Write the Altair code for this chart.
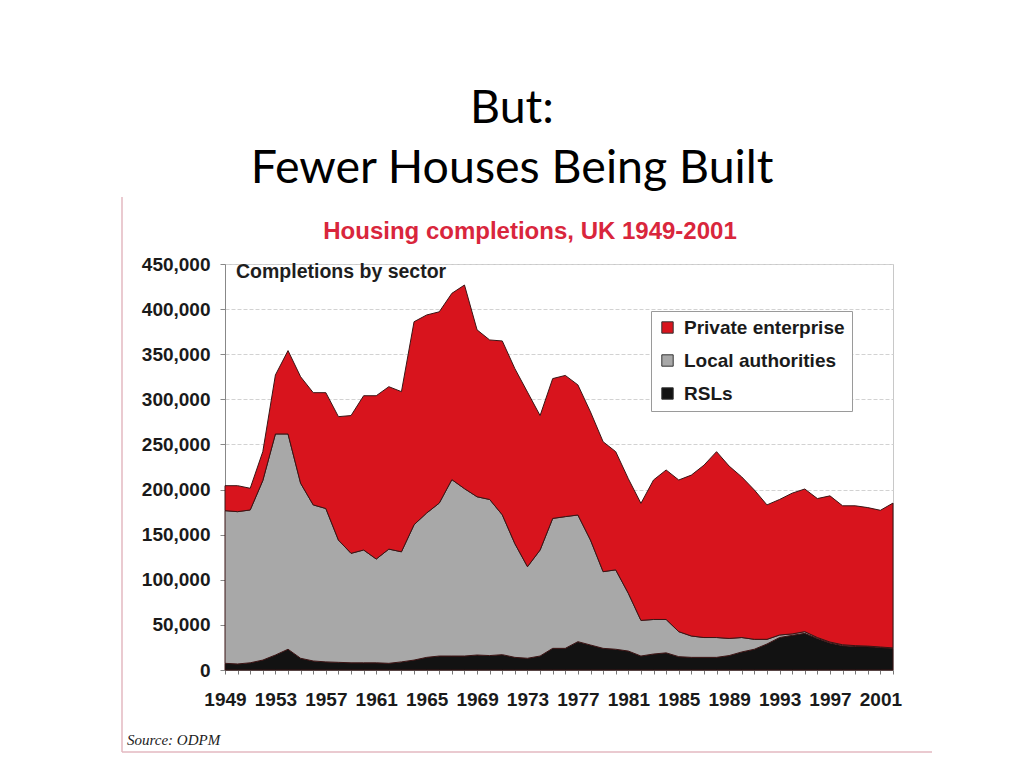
import altair as alt
import pandas as pd

# ---- data ----
years = list(range(1949, 2003))
rsl = [7400, 6700, 8000, 11000, 16600, 23000, 13000, 10000, 9000, 8500,
       8000, 8000, 8000, 7400, 9000, 11000, 14000, 15500, 15500, 15500,
       16600, 16000, 17000, 14000, 13000, 15500, 24000, 24000, 31400, 27700,
       24000, 23000, 21000, 15500, 17700, 19000, 14800, 14000, 14000, 14000,
       16000, 20000, 23000, 28800, 36000, 38400, 40600, 35000, 30000, 27000,
       26000, 26000, 25000, 24000]
local = [169200, 168800, 169400, 199000, 245000, 238600, 194000, 173000, 170000, 135500,
         121300, 125000, 115000, 126600, 122000, 150000, 160000, 169500, 195500, 185500,
         175400, 173000, 155000, 126000, 101500, 117500, 144000, 146000, 140400, 116300,
         85000, 88000, 64000, 39500, 38300, 37000, 27700, 23700, 22000, 22000,
         19000, 16000, 11000, 5200, 2800, 1600, 1900, 1000, 1000, 1000,
         1000, 500, 500, 500]
private = [27700, 28800, 24000, 32000, 65400, 92400, 118000, 124400, 128400, 136800,
           152700, 171000, 181000, 180000, 177500, 225000, 219500, 212000, 206500, 225700,
           185000, 176800, 192700, 194000, 193500, 149000, 155000, 156500, 144200, 142000,
           144000, 131000, 127000, 129700, 154600, 165700, 168100, 178300, 191000, 206000,
           191000, 178000, 165500, 149000, 150200, 156000, 158100, 154000, 162000, 154000,
           155000, 153500, 151500, 160500]

sectors = ["Private enterprise", "Local authorities", "RSLs"]
colors = ["#d8141d", "#a8a8a8", "#121212"]
y_ticks = list(range(0, 450001, 50000))

rows = []
for i, yr in enumerate(years):
    rows.append({"year": yr, "sector": "RSLs", "k": 0, "v": rsl[i]})
    rows.append({"year": yr, "sector": "Local authorities", "k": 1, "v": local[i]})
    rows.append({"year": yr, "sector": "Private enterprise", "k": 2, "v": private[i]})
df = pd.DataFrame(rows)

FONT = "Liberation Sans"
W, H = 668, 406

areas = alt.Chart(df).mark_area(
    stroke="#3a1515", strokeWidth=1, strokeJoin="round", opacity=1
).encode(
    x=alt.X(
        "year:Q",
        title=None,
        scale=alt.Scale(domain=[1949, 2002], nice=False, zero=False),
        axis=alt.Axis(
            values=years,
            labelExpr="(datum.value - 1949) % 4 == 0 ? datum.value : ''",
            labelFont=FONT, labelFontSize=19, labelFontWeight="bold",
            labelColor="#1a1a1a", labelPadding=16, labelOverlap=False,
            labelFlush=False,
            tickSize=4, tickColor="#777777", domainColor="#777777",
            grid=False,
        ),
    ),
    y=alt.Y(
        "v:Q",
        stack="zero",
        title=None,
        scale=alt.Scale(domain=[0, 450000], nice=False),
        axis=alt.Axis(
            values=y_ticks, format=",.0f",
            labelFont=FONT, labelFontSize=19, labelFontWeight="bold",
            labelColor="#1a1a1a", labelPadding=10,
            tickSize=5, tickColor="#888888", domainColor="#888888",
            grid=True, gridColor="#d2d2d2", gridDash=[4, 2],
        ),
    ),
    color=alt.Color(
        "sector:N",
        scale=alt.Scale(domain=sectors, range=colors),
        legend=alt.Legend(
            orient="none", legendX=426, legendY=47, title=None,
            symbolType="square", symbolSize=130,
            symbolStrokeColor="#333333", symbolStrokeWidth=1,
            labelFont=FONT, labelFontSize=19, labelFontWeight="bold",
            labelColor="#1a1a1a", labelOffset=7, labelLimit=400,
            fillColor="white", strokeColor="#9a9a9a",
            padding=7, rowPadding=13,
        ),
    ),
    order=alt.Order("k:Q", sort="ascending"),
)


def label(text, x, y, **kw):
    return alt.Chart(pd.DataFrame({"t": [text]})).mark_text(**kw).encode(
        text="t:N", x=alt.value(x), y=alt.value(y)
    )


slide1 = label("But:", 287, -155, font="Lato", fontSize=46.5, color="#000000",
               align="center", baseline="middle")
slide2 = label("Fewer Houses Being Built", 287, -95, font="Lato", fontSize=46.5,
               color="#000000", align="center", baseline="middle")
title = label("Housing completions, UK 1949-2001", 305, -32, font=FONT,
              fontSize=24, fontWeight="bold", color="#d9263c",
              align="center", baseline="middle")
sub = label("Completions by sector", 11, 8, font=FONT, fontSize=19.5,
            fontWeight="bold", color="#1e1e1e", align="left", baseline="middle")
source = label("Source: ODPM", -98, 476, font="Liberation Serif", fontSize=15,
               fontStyle="italic", color="#222222", align="left", baseline="middle")

frame_left = alt.Chart(pd.DataFrame({"a": [0]})).mark_rule(
    color="#e3b9c0", strokeWidth=1.5
).encode(x=alt.value(-103), y=alt.value(-67), y2=alt.value(488))
frame_bottom = alt.Chart(pd.DataFrame({"a": [0]})).mark_rule(
    color="#e3b9c0", strokeWidth=1.5
).encode(x=alt.value(-103), x2=alt.value(707), y=alt.value(488))

chart = alt.layer(
    areas, sub, title, slide1, slide2, source, frame_left, frame_bottom
).properties(
    width=W, height=H,
    padding={"left": 217, "top": 256, "right": 115, "bottom": 86},
    autosize=alt.AutoSizeParams(type="none"),
    background="white",
).configure_view(stroke="#c8c8c8", strokeWidth=1)

chart.save("out.html", embed_options={"renderer": "svg", "actions": False})
